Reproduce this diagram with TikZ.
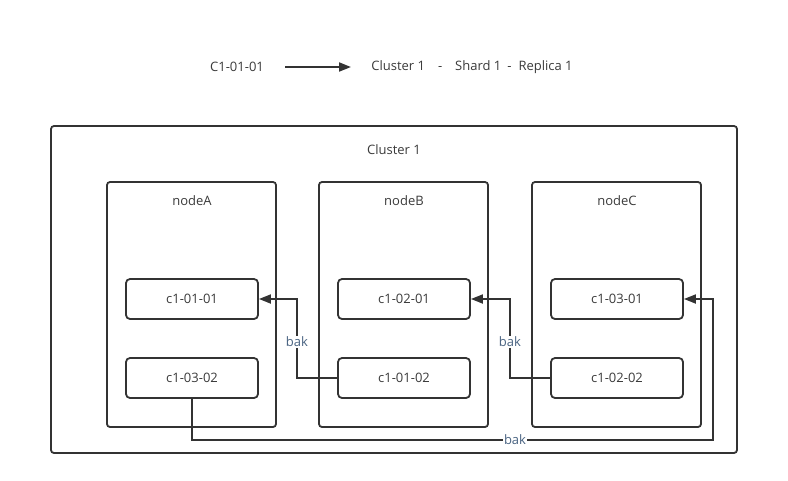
\documentclass[tikz,border=0pt]{standalone}
\usepackage{fontspec}
\setmainfont{Open Sans}
\usetikzlibrary{arrows.meta}
\definecolor{trait}{HTML}{333333}
\definecolor{texte}{HTML}{3A3A3A}
\definecolor{bakc}{HTML}{4A6482}
\begin{document}
\begin{tikzpicture}[x=1pt, y=-1pt, font=\fontsize{13}{15}\selectfont, text=texte]
				\tikzset{boite/.style={draw=trait, line width=1.8pt, rounded corners=3pt, inner sep=0pt},
				petite/.style={boite, minimum width=132pt, minimum height=40pt, rounded corners=4pt},
				fleche/.style={draw=trait, line width=1.8pt, -{Triangle[length=12pt, width=9pt]}},
				etiq/.style={fill=white, inner sep=1pt, text=bakc}};
				\useasboundingbox (0,0) rectangle (788,480);

				% legende
				\node (leg) at (237,67) {C1-01-01};
				\node (signif) at (472,67) {Cluster 1\hspace{13pt}-\hspace{13pt}Shard 1\hspace{6pt}-\hspace{7pt}Replica 1};
				\coordinate (l1) at (285,67);
				\coordinate (l2) at (351,67);
				\draw[fleche] (l1) -- (l2);

				% cluster et noeuds
				\node[boite, minimum width=686pt, minimum height=327pt] (cl) at (394,289.5) {};
				\node (clt) at (394,150) {Cluster 1};
				\node[boite, minimum width=169pt, minimum height=245pt] (nA) at (191.5,304.5) {};
				\node[boite, minimum width=169pt, minimum height=245pt] (nB) at (403.5,304.5) {};
				\node[boite, minimum width=169pt, minimum height=245pt] (nC) at (616.5,304.5) {};
				\node (tA) at (192,201) {nodeA};
				\node (tB) at (404,201) {nodeB};
				\node (tC) at (617,201) {nodeC};

				% shards
				\node[petite] (a1) at (192,299) {c1-01-01};
				\node[petite] (a2) at (192,378) {c1-03-02};
				\node[petite] (b1) at (404,299) {c1-02-01};
				\node[petite] (b2) at (404,378) {c1-01-02};
				\node[petite] (c1) at (617,299) {c1-03-01};
				\node[petite] (c2) at (617,378) {c1-02-02};

				% copies
				\coordinate (ab) at (297,378);
				\coordinate (bc) at (510,378);
				\coordinate (bas) at (713,440);
				\draw[fleche] (b2.west) -- (ab) |- node[pos=0.23, etiq] {bak} (a1.east);
				\draw[fleche] (c2.west) -- (bc) |- node[pos=0.23, etiq] {bak} (b1.east);
				\draw[fleche] (a2.south) |- node[pos=0.81, etiq] {bak} (bas) |- (c1.east);
			\end{tikzpicture}
\end{document}
